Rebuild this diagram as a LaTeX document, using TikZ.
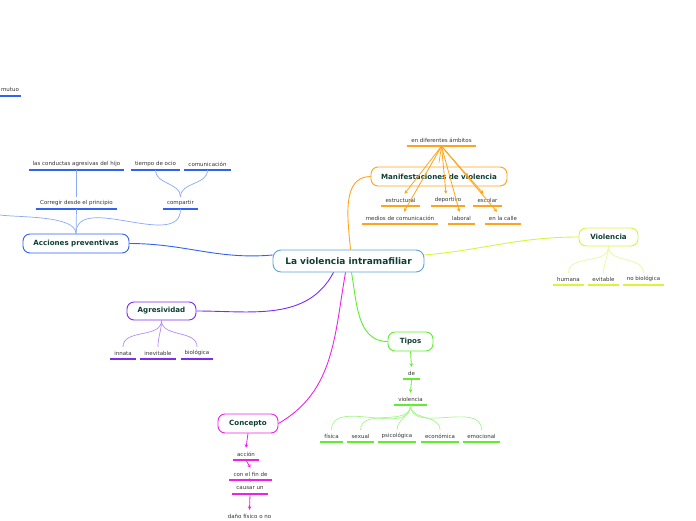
\documentclass[tikz,border=0pt]{standalone}
\usepackage{fontspec}
\setmainfont{DejaVu Sans}
\usetikzlibrary{arrows.meta}
\definecolor{bluem}{HTML}{2F63F0}
\definecolor{bluel}{HTML}{8AA8F8}
\definecolor{orm}{HTML}{FFA31A}
\definecolor{ygm}{HTML}{D8F53C}
\definecolor{ygl}{HTML}{E6F8A0}
\definecolor{purm}{HTML}{7A2CF0}
\definecolor{purl}{HTML}{B08CF6}
\definecolor{grm}{HTML}{5FEE2F}
\definecolor{grl}{HTML}{A6F48E}
\definecolor{magm}{HTML}{EE22E6}
\definecolor{cenb}{HTML}{5AA2DA}
\definecolor{txg}{HTML}{0F3F33}
\definecolor{txs}{HTML}{333333}
\tikzset{
  mainbox/.style={draw=#1, line width=0.9pt, rounded corners=7pt, fill=white, text=txg,
    font=\bfseries\fontsize{7.1}{8}\selectfont, inner sep=0pt, minimum height=19pt},
  sub/.style={inner sep=0pt, minimum height=12pt, text=txs, font=\fontsize{5.5}{6}\selectfont},
  ul/.style={draw=#1, line width=1.5pt},
  conn/.style={draw=#1, line width=0.9pt},
  lconn/.style={draw=#1, line width=0.7pt},
  arr/.style={draw=#1, line width=0.8pt, -{Stealth[length=3.5pt,width=3.5pt]}}
}
\newcommand\mysub[6]{\node[sub, minimum width=#4] (#1) at ({#2},{#3-6}) {#6};
  \draw[ul=#5] (#1.south west) -- (#1.south east);}
\begin{document}
\begin{tikzpicture}[x=1pt,y=-1pt]
\useasboundingbox (0,0) rectangle (696,520);
\clip (0,0) rectangle (696,520);

% main nodes
\node[mainbox=cenb, minimum width=151, minimum height=22, rounded corners=8pt,
  font=\bfseries\fontsize{9}{10}\selectfont] (c) at (348.5,261) {La violencia intramafiliar};
\node[mainbox=bluem, minimum width=106] (acc) at (76,243.5) {Acciones preventivas};
\node[mainbox=orm, minimum width=136] (man) at (439,176.5) {Manifestaciones de violencia};
\node[mainbox=ygm, minimum width=59, minimum height=18] (vl) at (608.5,237) {Violencia};
\node[mainbox=purm, minimum width=69, minimum height=18] (agr) at (161.5,311) {Agresividad};
\node[mainbox=grm, minimum width=45] (tip) at (410.5,341.5) {Tipos};
\node[mainbox=magm, minimum width=60] (con) at (248,423.5) {Concepto};

% main connectors
\draw[conn=bluem] (acc.east) to[out=0,in=185] ([yshift=6pt]c.west);
\draw[conn=orm] ([xshift=2pt]c.north) to[out=95,in=180] (man.west);
\draw[conn=ygm] ([yshift=6pt]c.east) to[out=5,in=180] (vl.west);
\draw[conn=purm] ([xshift=-15pt]c.south) to[out=-118,in=0] (agr.east);
\draw[conn=grm] ([xshift=3pt]c.south) to[out=-80,in=180] (tip.west);
\draw[conn=magm] ([xshift=-3pt]c.south) to[out=-100,in=30] (con.east);

% Acciones preventivas
\mysub{mut}{10}{96}{21}{bluem}{mutuo}
\mysub{lc}{76.5}{170}{95}{bluem}{las conductas agresivas del hijo}
\mysub{oc}{155.5}{170}{49}{bluem}{tiempo de ocio}
\mysub{com}{207.5}{170}{47}{bluem}{comunicación}
\mysub{cor}{76.5}{209}{81}{bluem}{Corregir desde el principio}
\mysub{cmp}{180.5}{209}{35}{bluem}{compartir}
\coordinate (lft) at (0,215);
\draw[lconn=bluel] (lc.south) -- (cor.north);
\draw[lconn=bluel] (cor.south) -- (acc.north);
\draw[lconn=bluel] (cmp.south) to[out=-90,in=90] (acc.north);
\draw[lconn=bluel] (lft) to[out=-8,in=90,looseness=0.6] (acc.north);
\draw[lconn=bluel] (oc.south) to[out=-90,in=90] (cmp.north);
\draw[lconn=bluel] (com.south) to[out=-90,in=90] (cmp.north);

% Manifestaciones
\mysub{amb}{441.5}{146}{69}{orm}{en diferentes ámbitos}
\mysub{est}{400.5}{206}{39}{orm}{estructural}
\mysub{dep}{448}{206}{34}{orm}{deportivo}
\mysub{esc}{487.5}{206}{29}{orm}{escolar}
\mysub{med}{400}{224}{76}{orm}{medios de comunicación}
\mysub{lab}{461.5}{224}{27}{orm}{laboral}
\mysub{cal}{503}{224}{36}{orm}{en la calle}
\draw[lconn=orm] (amb.south) -- ([yshift=4pt]man.north);
\draw[arr=orm] (amb.south) -- ([xshift=4pt]est.north);
\draw[arr=orm] (amb.south) -- ([xshift=-2pt]dep.north);
\draw[arr=orm] (amb.south) -- ([xshift=-4pt]esc.north);
\draw[arr=orm] (amb.south) -- ([xshift=4pt]med.north);
\draw[arr=orm] (amb.south) -- ([xshift=-2pt]lab.north);
\draw[arr=orm] (amb.south) -- ([xshift=-6pt]cal.north);

% Violencia
\mysub{hum}{568.5}{285}{31}{ygm}{humana}
\mysub{evi}{603.5}{285}{31}{ygm}{evitable}
\mysub{nob}{643.5}{285}{41}{ygm}{no biológica}
\foreach \n in {hum,evi,nob} \draw[lconn=ygl] (vl.south) to[out=-90,in=90] (\n.north);

% Agresividad
\mysub{inn}{123}{359}{26}{purm}{innata}
\mysub{inev}{158}{359}{36}{purm}{inevitable}
\mysub{bio}{197}{359}{32}{purm}{biológica}
\foreach \n in {inn,inev,bio} \draw[lconn=purl] (agr.south) to[out=-90,in=90] (\n.north);

% Tipos
\mysub{de}{411.5}{379}{17}{grm}{de}
\mysub{vio}{410.5}{405}{33}{grm}{violencia}
\mysub{fis}{331.5}{442}{23}{grm}{física}
\mysub{sex}{360.5}{442}{27}{grm}{sexual}
\mysub{psi}{397}{442}{38}{grm}{psicológica}
\mysub{eco}{440}{442}{38}{grm}{económica}
\mysub{emo}{481.5}{442}{37}{grm}{emocional}
\draw[arr=grm] (tip.south) -- (de.north);
\draw[arr=grm] (de.south) -- (vio.north);
\foreach \n in {fis,sex,psi,eco,emo} \draw[lconn=grl] (vio.south) to[out=-90,in=90] (\n.north);

% Concepto
\mysub{acn}{246}{460}{26}{magm}{acción}
\mysub{fin}{250.5}{480}{43}{magm}{con el fin de}
\mysub{cau}{250}{494}{36}{magm}{causar un}
\mysub{dan}{249.5}{522}{50}{magm}{daño físico o no}
\draw[arr=magm] (con.south) -- (acn.north);
\draw[arr=magm] (acn.south) -- (fin.north);
\draw[arr=magm] (fin.south) -- (cau.north);
\draw[arr=magm] (cau.south) -- (dan.north);
\end{tikzpicture}
\end{document}
